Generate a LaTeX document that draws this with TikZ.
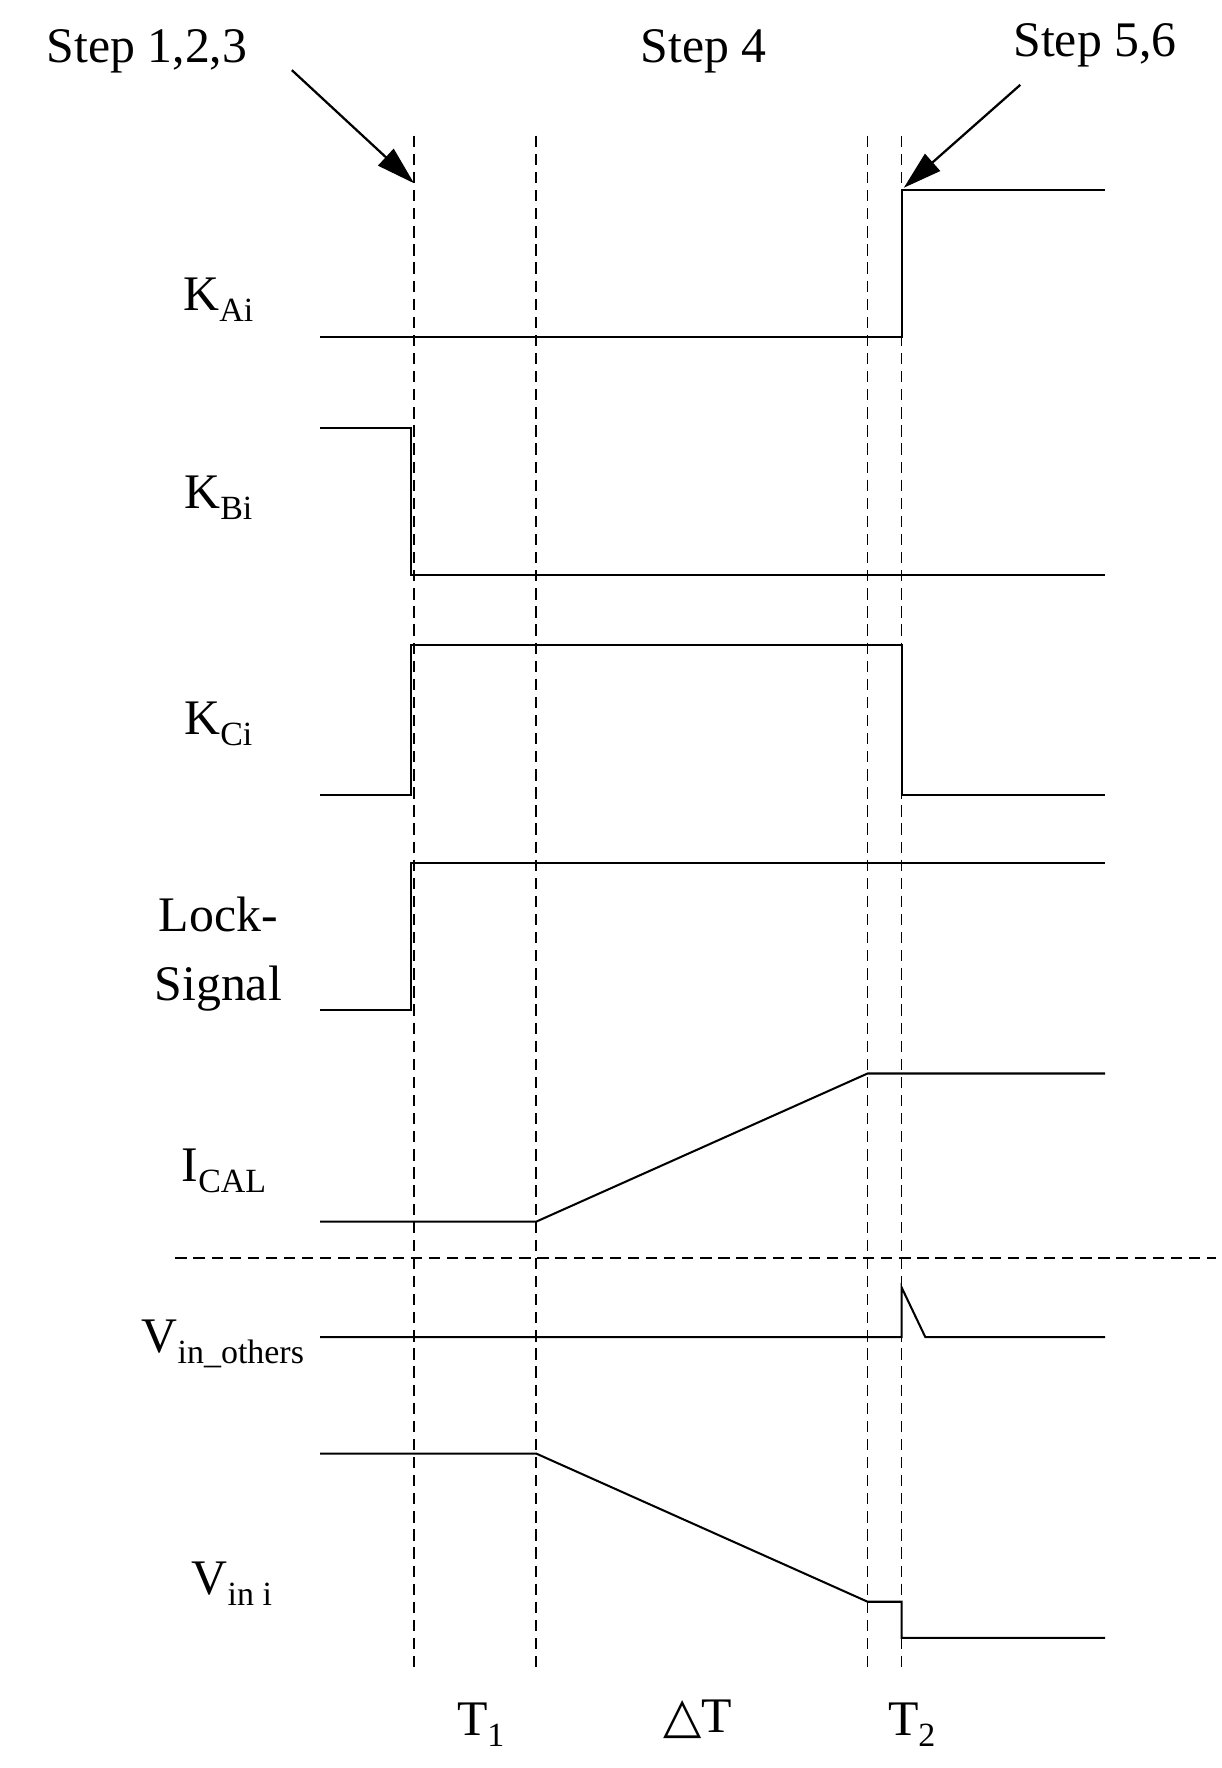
\documentclass[tikz,border=0pt]{standalone}
\usepackage{fontspec}
\setmainfont{Liberation Serif}
\newfontfamily\djv{DejaVu Sans}
\usetikzlibrary{arrows.meta}
\newcommand{\sbx}[1]{\raisebox{-0.22em}{\fontsize{30}{30}\selectfont #1}}
\begin{document}
\begin{tikzpicture}[x=1pt,y=-1pt,
  sig/.style={line width=1.8pt,line join=miter},
  guide/.style={dashed,line width=1.3pt,dash pattern=on 10pt off 6pt},
  lbl/.style={font=\fontsize{44}{48}\selectfont,inner sep=0pt},
  pointer/.style={line width=2pt,-{Triangle[length=34pt,width=20pt]}}]
\useasboundingbox (0,0) rectangle (1080,1563);
% guides
\foreach \x/\n in {366/ga,474/gb,767/gc,797/gd}{
  \coordinate (\n t) at (\x,120); \coordinate (\n b) at (\x,1475);
  \draw[guide] (\n t) -- (\n b);}
\coordinate (hl) at (155,1112); \coordinate (hr) at (1075,1112);
\draw[guide] (hl) -- (hr);
% signals
\draw[sig] (283,298) -- (797,298) -- (797,168) -- (977,168);
\draw[sig] (283,378) -- (363,378) -- (363,508) -- (977,508);
\draw[sig] (283,703) -- (363,703) -- (363,570) -- (797,570) -- (797,703) -- (977,703);
\draw[sig] (283,893) -- (363,893) -- (363,763) -- (977,763);
\draw[sig] (283,1080) -- (474,1080) -- (767,949) -- (977,949);
\draw[sig] (283,1182) -- (797,1182) -- (797,1138) -- (818,1182) -- (977,1182);
\draw[sig] (283,1285) -- (474,1285) -- (767,1416) -- (797,1416) -- (797,1448) -- (977,1448);
% labels
\node[lbl] (s1) at (130,45) {Step 1,2,3};
\node[lbl] (s4) at (622,45) {Step 4};
\node[lbl] (s5) at (968,40) {Step 5,6};
\coordinate (a1s) at (258,62); \coordinate (a1e) at (366,162);
\coordinate (a2s) at (902,75); \coordinate (a2e) at (799,166);
\draw[pointer] (a1s) -- (a1e);
\draw[pointer] (a2s) -- (a2e);
\node[lbl] (ka) at (193,265) {K\sbx{Ai}};
\node[lbl] (kb) at (193,440) {K\sbx{Bi}};
\node[lbl] (kc) at (193,640) {K\sbx{Ci}};
\node[lbl] (l1) at (193,808) {Lock-};
\node[lbl] (l2) at (193,874) {Signal};
\node[lbl] (ic) at (198,1035) {I\sbx{CAL}};
\node[lbl] (vo) at (197,1188) {V\sbx{in\_others}};
\node[lbl] (vi) at (205,1400) {V\sbx{in i}};
\node[lbl] (t1) at (425,1525) {T\sbx{1}};
\node[lbl] (dt) at (617,1520) {{\djv\fontsize{44}{48}\selectfont △}T};
\node[lbl] (t2) at (806,1525) {T\sbx{2}};
\end{tikzpicture}
\end{document}
